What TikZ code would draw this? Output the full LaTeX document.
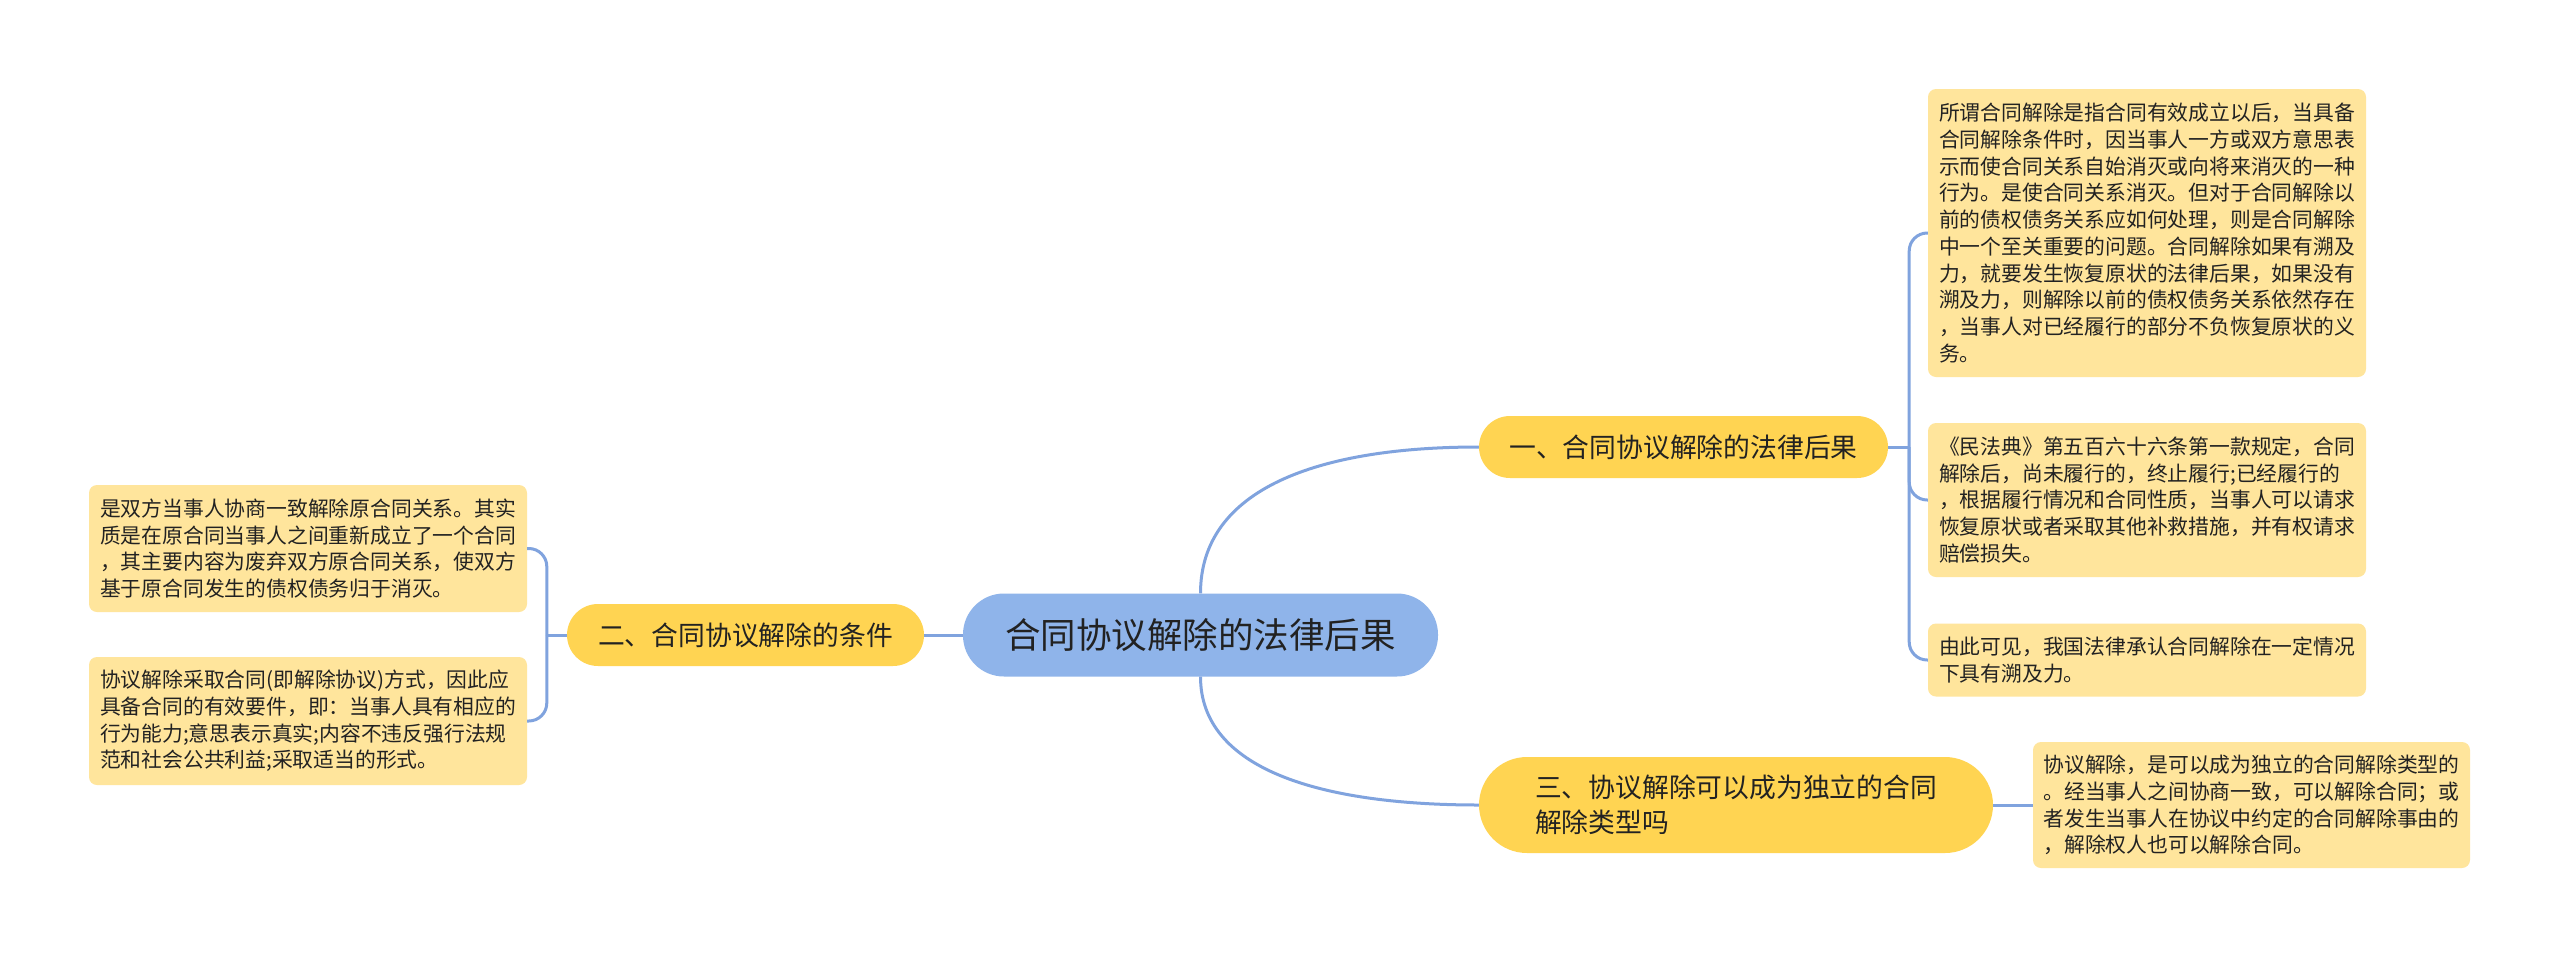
\documentclass[tikz,border=0pt]{standalone}
\usepackage{fontspec}
\newfontfamily\cjk{Noto Sans CJK SC}
\definecolor{mmblue}{RGB}{143,180,234}
\definecolor{mmline}{RGB}{128,163,222}
\definecolor{mmyellow}{RGB}{255,212,82}
\definecolor{mmpale}{RGB}{255,229,156}
\definecolor{mmtext}{RGB}{34,34,34}

\begin{document}
\begin{tikzpicture}[
  x=1pt,y=-1pt,
  root/.style={fill=mmblue,rounded corners=41pt,minimum width=475pt,minimum height=83pt,
    font=\cjk\fontsize{35.5}{42}\selectfont,text=mmtext},
  topic/.style={fill=mmyellow,rounded corners=31pt,minimum height=62pt,
    font=\cjk\fontsize{26.8}{35}\selectfont,text=mmtext,align=left},
  leaf/.style={fill=mmpale,rounded corners=8pt,minimum width=438pt,
    font=\cjk\fontsize{20.8}{26.7}\selectfont,text=mmtext,align=left},
  link/.style={draw=mmline,line width=3pt},
  bracket/.style={link,rounded corners=18pt}
]
  \fill[white] (0,0) rectangle (2560,959);
  \useasboundingbox (0,0) rectangle (2560,959);
  % Central
  \node[root] (root) at (1200.5,635) {合同协议解除的法律后果};
  % Branches
  \node[topic,minimum width=409pt] (b1) at (1683.5,447) {一、合同协议解除的法律后果};
  \node[topic,minimum width=357pt] (b2) at (745.5,635) {二、合同协议解除的条件};
  \node[topic,minimum width=514pt,minimum height=96pt,rounded corners=48pt] (b3) at (1736,805)
    {三、协议解除可以成为独立的合同\\解除类型吗};
  % Leaves of branch one
  \node[leaf,minimum height=288pt] (l1) at (2147,233) {所谓合同解除是指合同有效成立以后，当具备\\合同解除条件时，因当事人一方或双方意思表\\示而使合同关系自始消灭或向将来消灭的一种\\行为。是使合同关系消灭。但对于合同解除以\\前的债权债务关系应如何处理，则是合同解除\\中一个至关重要的问题。合同解除如果有溯及\\力，就要发生恢复原状的法律后果，如果没有\\溯及力，则解除以前的债权债务关系依然存在\\，当事人对已经履行的部分不负恢复原状的义\\务。};
  \node[leaf,minimum height=154pt] (l2) at (2147,500) {《民法典》第五百六十六条第一款规定，合同\\解除后，尚未履行的，终止履行;已经履行的\\，根据履行情况和合同性质，当事人可以请求\\恢复原状或者采取其他补救措施，并有权请求\\赔偿损失。};
  \node[leaf,minimum height=73pt] (l3) at (2147,660) {由此可见，我国法律承认合同解除在一定情况\\下具有溯及力。};
  % Leaf of branch three
  \node[leaf,minimum width=437pt,minimum height=126pt] (l4) at (2251.5,805) {协议解除，是可以成为独立的合同解除类型的\\。经当事人之间协商一致，可以解除合同；或\\者发生当事人在协议中约定的合同解除事由的\\，解除权人也可以解除合同。};
  % Leaves of branch two
  \node[leaf,minimum height=127pt] (l5) at (308,548.5) {是双方当事人协商一致解除原合同关系。其实\\质是在原合同当事人之间重新成立了一个合同\\，其主要内容为废弃双方原合同关系，使双方\\基于原合同发生的债权债务归于消灭。};
  \node[leaf,minimum height=128pt] (l6) at (308,721) {协议解除采取合同(即解除协议)方式，因此应\\具备合同的有效要件，即：当事人具有相应的\\行为能力;意思表示真实;内容不违反强行法规\\范和社会公共利益;采取适当的形式。};
  % Connectors
  \draw[link] (root.north) .. controls +(0,-105) and +(-160,0) .. (b1.west);
  \draw[link] (root.south) .. controls +(0,92) and +(-160,0) .. (b3.west);
  \draw[link] (root.west) -- (b2.east);
  \draw[link] (b1.east) -- ++(21,0) coordinate (j1);
  \draw[bracket] (j1) |- (l1.west);
  \draw[bracket] (j1) |- (l2.west);
  \draw[bracket] (j1) |- (l3.west);
  \draw[link] (b3.east) -- (l4.west);
  \draw[link] (b2.west) -- ++(-20,0) coordinate (j2);
  \draw[bracket] (j2) |- (l5.east);
  \draw[bracket] (j2) |- (l6.east);
\end{tikzpicture}
\end{document}
